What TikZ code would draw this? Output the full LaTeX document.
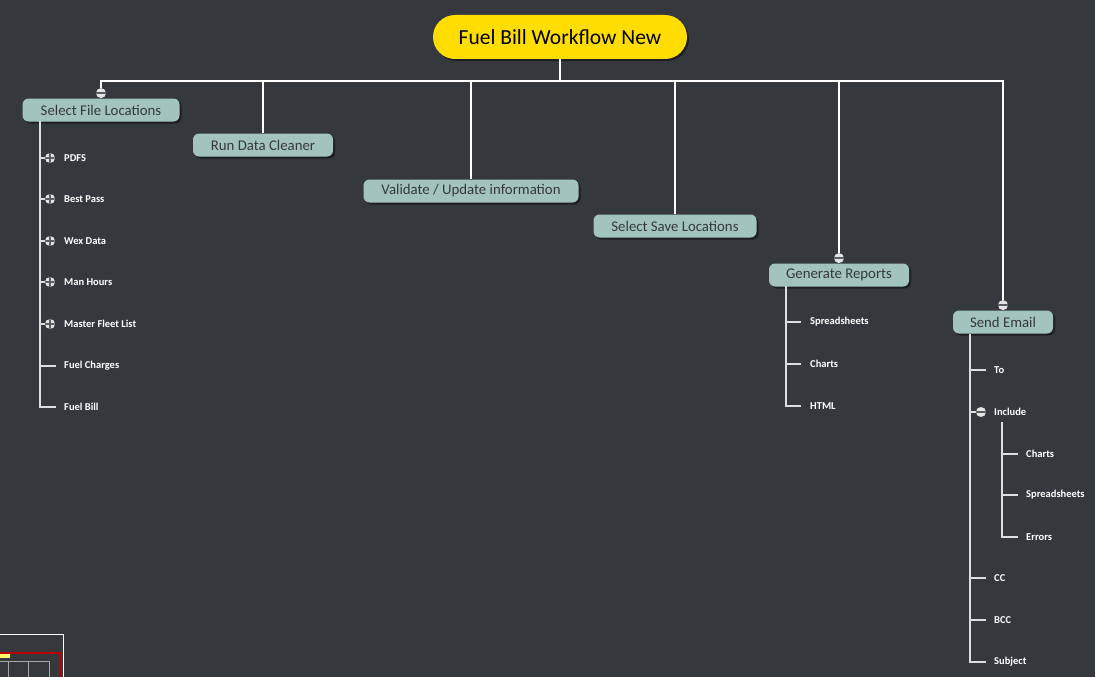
\documentclass[tikz,border=0pt]{standalone}
\usepackage{fontspec}
\setmainfont{Carlito}
\usetikzlibrary{shadows}
\definecolor{bgdark}{RGB}{53,57,61}
\definecolor{rootyellow}{RGB}{255,221,0}
\definecolor{branchgreen}{RGB}{163,196,190}
\definecolor{labeldark}{RGB}{52,56,60}
\definecolor{leafline}{RGB}{222,222,222}
\definecolor{knobgrey}{RGB}{228,228,228}
\definecolor{knobmark}{RGB}{90,94,98}

\tikzset{
  rootbox/.style={fill=rootyellow, rounded corners=22pt, minimum width=254pt, minimum height=44pt,
    font=\fontsize{21.5}{24}\selectfont, text=black,
    drop shadow={shadow xshift=2pt, shadow yshift=-2pt, fill=black, opacity=0.45}},
  branchbox/.style={fill=branchgreen, rounded corners=6pt, minimum height=23pt, inner xsep=0pt,
    font=\fontsize{14.8}{16}\selectfont, text=labeldark,
    drop shadow={shadow xshift=2pt, shadow yshift=-2pt, fill=black, opacity=0.45}},
  leaf/.style={anchor=west, inner sep=0pt, text=white, font=\fontsize{10.5}{12}\selectfont\bfseries},
  bus/.style={draw=white, line width=2.2pt},
  twig/.style={draw=leafline, line width=1.6pt},
  knob/.style={circle, fill=knobgrey, minimum size=10pt, inner sep=0pt},
  knobminus/.style={knob, path picture={\draw[knobmark, line width=1.3pt]
      (path picture bounding box.west) -- (path picture bounding box.east);}},
  knobplus/.style={knob, path picture={\draw[knobmark, line width=1.3pt]
      (path picture bounding box.west) -- (path picture bounding box.east)
      (path picture bounding box.north) -- (path picture bounding box.south);}}
}

\begin{document}
\begin{tikzpicture}[x=1pt, y=-1pt]
  % Background
  \fill[bgdark] (0,0) rectangle (1095,677);
  \useasboundingbox (0,0) rectangle (1095,677);

  % Root
  \node[rootbox] (root) at (560,37) {Fuel Bill Workflow New};

  % Main branches
  \node[branchbox, minimum width=157pt] (files) at (101,110) {Select File Locations};
  \node[branchbox, minimum width=140pt] (clean) at (263,145) {Run Data Cleaner};
  \node[branchbox, minimum width=215pt] (valid) at (471,191) {Validate / Update information};
  \node[branchbox, minimum width=163pt] (save) at (675,226) {Select Save Locations};
  \node[branchbox, minimum width=140pt] (reports) at (839,275) {Generate Reports};
  \node[branchbox, minimum width=100pt] (mail) at (1003,322) {Send Email};

  % Collapse knobs above branches
  \node[knobminus, anchor=south] (filesknob) at (files.north) {};
  \node[knobminus, anchor=south] (reportsknob) at (reports.north) {};
  \node[knobminus, anchor=south] (mailknob) at (mail.north) {};

  % Bus from root
  \coordinate (bus) at (560,81);
  \draw[bus] (root.south) -- (bus);
  \draw[bus] (filesknob.north) -- (filesknob.north |- bus) -- (mail.north |- bus) -- (mailknob.north);
  \draw[bus] (clean.north |- bus) -- (clean.north);
  \draw[bus] (valid.north |- bus) -- (valid.north);
  \draw[bus] (save.north |- bus) -- (save.north);
  \draw[bus] (reports.north |- bus) -- (reportsknob.north);

  % Select File Locations leaves
  \node[knobplus] (k1) at (50,158) {};
  \node[knobplus] (k2) at (50,199) {};
  \node[knobplus] (k3) at (50,241) {};
  \node[knobplus] (k4) at (50,282) {};
  \node[knobplus] (k5) at (50,324) {};
  \node[leaf] (pdfs) at (64,158) {PDFS};
  \node[leaf] (bestpass) at (64,199) {Best Pass};
  \node[leaf] (wex) at (64,241) {Wex Data};
  \node[leaf] (manhours) at (64,282) {Man Hours};
  \node[leaf] (fleet) at (64,324) {Master Fleet List};
  \node[leaf] (charges) at (64,366) {Fuel Charges};
  \node[leaf] (fuelbill) at (64,407) {Fuel Bill};
  \coordinate (trunkA) at (40,121);
  \draw[twig] (trunkA) |- ([xshift=-8pt]fuelbill.west);
  \draw[twig] (trunkA |- k1) -- (k1.west);
  \draw[twig] (trunkA |- k2) -- (k2.west);
  \draw[twig] (trunkA |- k3) -- (k3.west);
  \draw[twig] (trunkA |- k4) -- (k4.west);
  \draw[twig] (trunkA |- k5) -- (k5.west);
  \draw[twig] (trunkA |- charges) -- ([xshift=-8pt]charges.west);

  % Generate Reports leaves
  \node[leaf] (sheets) at (810,322) {Spreadsheets};
  \node[leaf] (charts) at (810,364) {Charts};
  \node[leaf] (html) at (810,406) {HTML};
  \coordinate (trunkB) at (786,286);
  \draw[twig] (trunkB) |- ([xshift=-9pt]html.west);
  \draw[twig] (trunkB |- sheets) -- ([xshift=-9pt]sheets.west);
  \draw[twig] (trunkB |- charts) -- ([xshift=-9pt]charts.west);

  % Send Email leaves
  \node[knobminus] (k6) at (981,412) {};
  \node[leaf] (to) at (994,370) {To};
  \node[leaf] (include) at (994,412) {Include};
  \node[leaf] (cc) at (994,578) {CC};
  \node[leaf] (bcc) at (994,620) {BCC};
  \node[leaf] (subject) at (994,662) {Subject};
  \coordinate (trunkC) at (970,334);
  \draw[twig] (trunkC) |- ([xshift=-8pt]subject.west);
  \draw[twig] (trunkC |- to) -- ([xshift=-8pt]to.west);
  \draw[twig] (trunkC |- k6) -- (k6.west);
  \draw[twig] (trunkC |- cc) -- ([xshift=-8pt]cc.west);
  \draw[twig] (trunkC |- bcc) -- ([xshift=-8pt]bcc.west);

  % Include leaves
  \node[leaf] (incharts) at (1026,454) {Charts};
  \node[leaf] (insheets) at (1026,495) {Spreadsheets};
  \node[leaf] (inerrors) at (1026,537) {Errors};
  \coordinate (trunkD) at (1002,422);
  \draw[twig] (trunkD) |- ([xshift=-8pt]inerrors.west);
  \draw[twig] (trunkD |- incharts) -- ([xshift=-8pt]incharts.west);
  \draw[twig] (trunkD |- insheets) -- ([xshift=-8pt]insheets.west);

  % Overview panel
  \draw[white, line width=1pt] (0,634) -- (63,634) -- (63,677);
  \draw[red!75!black, line width=1.5pt] (0,653) -- (60,653) -- (60,677);
  \fill[yellow!60!white] (0,654) rectangle (10,658);
  \draw[gray!70, line width=0.8pt] (0,661) -- (49,661) (8,661) -- (8,677) (28,661) -- (28,677) (49,661) -- (49,677);
\end{tikzpicture}
\end{document}
